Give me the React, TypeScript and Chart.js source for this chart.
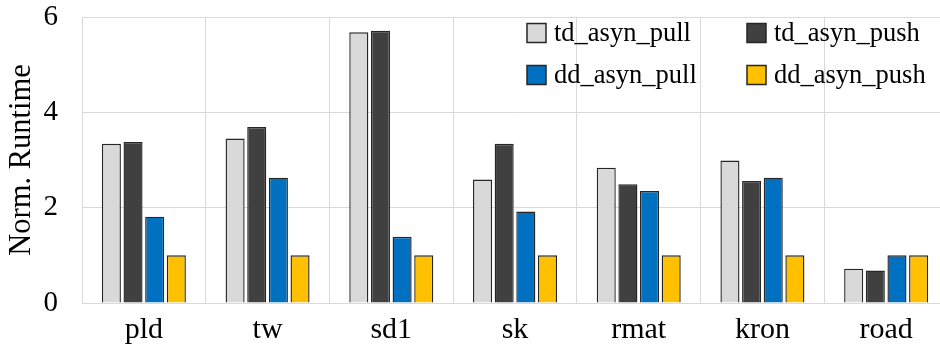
import React, { useEffect, useRef } from "react";
import { Chart, registerables } from "chart.js";

Chart.register(...registerables);

const categories = ["pld", "tw", "sd1", "sk", "rmat", "kron", "road"];
const seriesNames = ["td_asyn_pull", "td_asyn_push", "dd_asyn_pull", "dd_asyn_push"];
const tdAsynPull = [3.34, 3.45, 5.68, 2.59, 2.84, 2.99, 0.72];
const tdAsynPush = [3.38, 3.69, 5.71, 3.34, 2.49, 2.56, 0.68];
const ddAsynPull = [1.81, 2.63, 1.39, 1.92, 2.35, 2.63, 1.0];
const ddAsynPush = [1.0, 1.0, 1.0, 1.0, 1.0, 1.0, 1.0];
const yTicks = [0, 2, 4, 6];
const colors = ["#D9D9D9", "#404040", "#0070C0", "#FFC000"];

const FONT = "'Liberation Serif', 'Times New Roman', serif";

const gridLegend = {
  id: "gridLegend",
  afterDraw(chart: any) {
    const ctx = chart.ctx;
    const area = chart.chartArea;
    const cols = [area.left + 445, area.left + 665];
    const rows = [area.top + 16, area.top + 58];
    ctx.save();
    ctx.font = `26.5px ${FONT}`;
    ctx.textBaseline = "middle";
    ctx.textAlign = "left";
    chart.data.datasets.forEach((ds: any, i: number) => {
      const x = cols[i % 2];
      const y = rows[Math.floor(i / 2)];
      ctx.fillStyle = ds.backgroundColor;
      ctx.fillRect(x, y - 9.5, 19, 19);
      ctx.strokeStyle = "#262626";
      ctx.lineWidth = 1.5;
      ctx.strokeRect(x, y - 9.5, 19, 19);
      ctx.fillStyle = "#000";
      ctx.fillText(ds.label, x + 27, y + 1);
    });
    ctx.restore();
  },
};

export default function App() {
  const ref = useRef<HTMLCanvasElement>(null);
  useEffect(() => {
    if (!ref.current) return;
    const data = [tdAsynPull, tdAsynPush, ddAsynPull, ddAsynPush];
    const chart = new Chart(ref.current, {
      type: "bar",
      data: {
        labels: categories,
        datasets: seriesNames.map((name, i) => ({
          label: name,
          data: data[i],
          backgroundColor: colors[i],
          borderColor: "#262626",
          borderWidth: 1.4,
          categoryPercentage: 0.7,
          barPercentage: 0.88,
        })),
      },
      options: {
        animation: false,
        responsive: false,
        maintainAspectRatio: false,
        layout: { padding: { top: 17, right: 2, left: 0, bottom: 0 } },
        plugins: {
          legend: { display: false },
          tooltip: { enabled: false },
        },
        scales: {
          x: {
            afterFit: (axis: any) => {
              axis.height = 51;
              axis.paddingLeft = 0;
              axis.paddingRight = 0;
            },
            grid: { color: "#D9D9D9", lineWidth: 1, offset: true, drawTicks: false },
            border: { color: "#D9D9D9", width: 1 },
            ticks: {
              color: "#000",
              font: { family: FONT, size: 30 },
              padding: 9,
            },
          },
          y: {
            min: 0,
            max: 6,
            afterBuildTicks: (axis: any) => {
              axis.ticks = yTicks.map((v) => ({ value: v }));
            },
            afterFit: (axis: any) => {
              axis.width = 82;
              axis.paddingTop = 0;
              axis.paddingBottom = 0;
            },
            grid: { color: "#D9D9D9", lineWidth: 1, drawTicks: false },
            border: { color: "#D9D9D9", width: 1 },
            ticks: {
              color: "#000",
              font: { family: FONT, size: 29 },
              padding: 24,
            },
            title: {
              display: true,
              text: "Norm. Runtime",
              color: "#000",
              font: { family: FONT, size: 30.5 },
              padding: { top: 4, bottom: 4 },
            },
          },
        },
      },
      plugins: [gridLegend],
    });
    return () => chart.destroy();
  }, []);
  return (
    <div
      style={{
        position: "fixed",
        left: 0,
        top: 0,
        width: 940,
        height: 354,
        overflow: "hidden",
        background: "#fff",
      }}
    >
      <canvas ref={ref} width={950} height={354} style={{ display: "block" }} />
    </div>
  );
}
